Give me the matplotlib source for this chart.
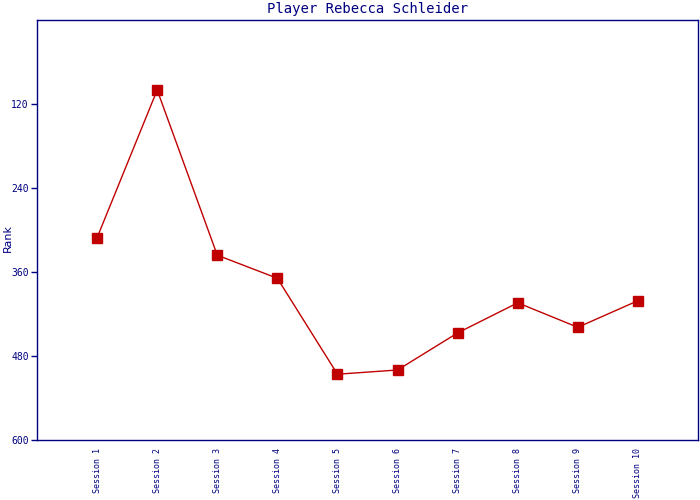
import matplotlib
matplotlib.use("Agg")
import matplotlib.pyplot as plt

# data
sessions = ["Session %d" % i for i in range(1, 11)]
ranks = [311, 100, 336, 369, 506, 500, 447, 404, 439, 401]
yticks = [120, 240, 360, 480, 600]

navy = "#000080"
red = "#c00000"
plt.rcParams["font.family"] = ["DejaVu Sans Mono"]

fig = plt.figure(figsize=(7, 5), dpi=100)
ax = fig.add_axes([37 / 700, 60 / 500, 661 / 700, 420 / 500])

x = list(range(1, len(sessions) + 1))
ax.plot(x, ranks, color=red, lw=1.0, marker="s", markersize=7.5,
        markerfacecolor=red, markeredgecolor=red)

ax.set_xlim(0, 11)
ax.set_ylim(600, 0)
ax.set_yticks(yticks)
ax.set_yticklabels([str(v) for v in yticks], fontsize=7, color=navy)
ax.set_xticks(x)
ax.set_xticklabels(sessions, rotation=90, fontsize=6, color=navy)
ax.tick_params(axis="x", length=0, pad=6)
ax.tick_params(axis="y", length=4, width=1, color=navy, pad=2)

for s in ax.spines.values():
    s.set_color(navy)
    s.set_linewidth(1)

ax.set_ylabel("Rank", fontsize=8, color=navy, family="DejaVu Sans")
ax.yaxis.set_label_coords(-24 / 661, 0.48)
ax.set_title("Player Rebecca Schleider", fontsize=10, color=navy, pad=5)

fig.savefig("out.png", dpi=100)
